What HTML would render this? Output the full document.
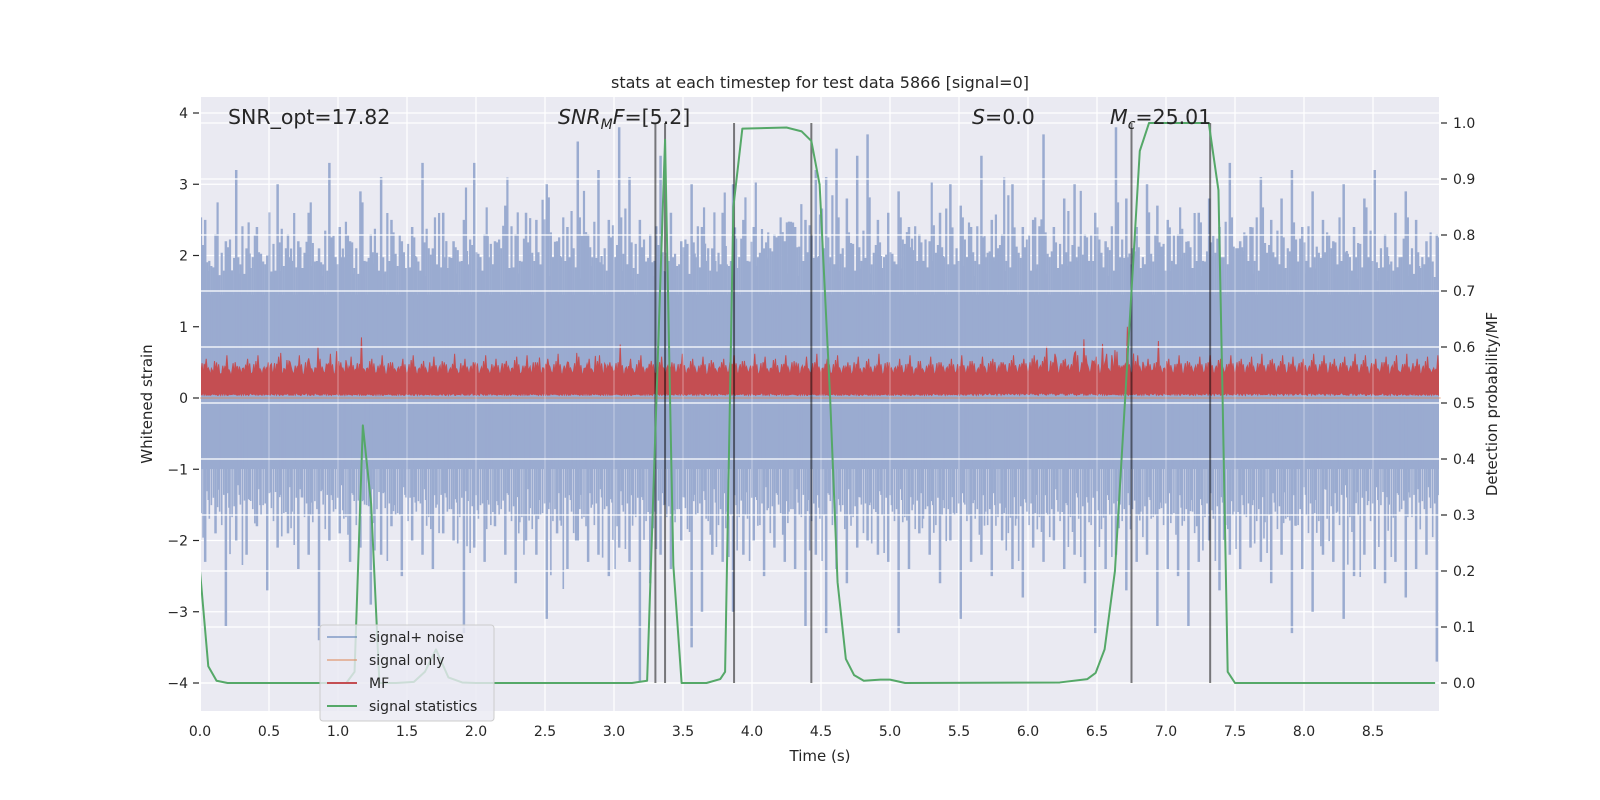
<!DOCTYPE html>
<html><head><meta charset="utf-8"><title>stats at each timestep</title>
<style>
html,body{margin:0;padding:0;background:#fff;}
svg{display:block;font-family:"DejaVu Sans","Liberation Sans",sans-serif;}
</style></head>
<body>
<svg id="chart" width="1600" height="800" viewBox="0 0 1600 800">
<defs><clipPath id="plotclip"><rect x="201" y="97" width="1238" height="614"/></clipPath></defs>
<rect x="201" y="97" width="1238" height="614" fill="#eaeaf2"/>
<g id="grid1"></g>
<g id="noise" clip-path="url(#plotclip)"></g>
<line id="sigonly"/>
<g id="mf" clip-path="url(#plotclip)"></g>
<g id="grid2"></g>
<g id="vlines"></g>
<g id="stats" clip-path="url(#plotclip)"></g>
<g id="axes"></g>
<text x="820" y="88" font-size="16" text-anchor="middle" fill="#262626">stats at each timestep for test data 5866 [signal=0]</text>
<text x="228" y="124" font-size="20.5" fill="#262626">SNR_opt=17.82</text>
<text x="558" y="124" font-size="20.5" fill="#262626"><tspan font-style="italic">SNR</tspan><tspan font-style="italic" font-size="14" dy="5">M</tspan><tspan font-style="italic" dy="-5">F</tspan>=[5.2]</text>
<text x="972" y="124" font-size="20.5" fill="#262626"><tspan font-style="italic">S</tspan>=0.0</text>
<text x="1110" y="124" font-size="20.5" fill="#262626"><tspan font-style="italic">M</tspan><tspan font-style="italic" font-size="14" dy="5">c</tspan><tspan dy="-5">=25.01</tspan></text>
<text x="820" y="761" font-size="15" text-anchor="middle" fill="#262626">Time (s)</text>
<text transform="translate(152,404) rotate(-90)" font-size="15" text-anchor="middle" fill="#262626">Whitened strain</text>
<text transform="translate(1497,404) rotate(-90)" font-size="15" text-anchor="middle" fill="#262626">Detection probability/MF</text>
<g>
<rect x="320" y="625" width="174" height="96" rx="3" fill="#eaeaf2" fill-opacity="0.8" stroke="#cccccc"/>
<g><line x1="327" y1="637" x2="357" y2="637" stroke="#4c72b0" stroke-opacity="0.5" stroke-width="2"/><text x="369" y="642" font-size="14" fill="#262626">signal+ noise</text></g>
<g><line x1="327" y1="660" x2="357" y2="660" stroke="#dd8452" stroke-opacity="0.5" stroke-width="2"/><text x="369" y="665" font-size="14" fill="#262626">signal only</text></g>
<g><line x1="327" y1="683" x2="357" y2="683" stroke="#c44e52" stroke-width="2"/><text x="369" y="688" font-size="14" fill="#262626">MF</text></g>
<g><line x1="327" y1="706" x2="357" y2="706" stroke="#55a868" stroke-width="2"/><text x="369" y="711" font-size="14" fill="#262626">signal statistics</text></g>
</g>
</svg>
<script>
// ---- data ----
const noiseStep = 0.075;
const noiseUpper = [2.5,2.3,2.2,3.2,2.1,2.4,2.0,3.0,2.3,2.2,
2.6,2.1,3.3,2.4,2.2,2.9,2.3,3.1,2.5,2.2,
2.4,3.3,2.1,2.6,2.2,2.5,3.3,2.3,2.2,2.7,
2.3,2.6,2.5,3.0,2.2,2.4,3.6,2.3,3.2,2.5,
3.8,3.1,2.5,2.3,3.4,2.6,2.2,3.0,2.4,2.1,
2.6,3.0,2.5,2.4,2.1,2.3,2.2,2.4,2.5,3.2,
3.1,3.5,2.8,3.4,3.7,2.5,2.6,2.9,2.4,2.3,
2.2,2.6,3.0,2.7,2.4,3.4,2.5,2.3,3.0,2.4,
2.5,3.7,2.4,2.8,3.0,2.3,2.6,2.2,3.8,2.8,
2.4,3.0,2.7,2.5,2.3,2.2,2.6,2.8,2.4,3.3,
2.2,2.4,3.1,2.5,2.8,3.2,2.4,2.9,2.5,2.2,
3.0,2.4,2.8,3.2,2.3,2.6,2.9,2.5,2.2,2.3];
const noiseLower = [-2.3,-1.9,-3.2,-2.0,-2.2,-1.8,-2.7,-2.1,-1.9,-2.4,
-2.2,-3.4,-2.0,-1.9,-2.3,-2.1,-2.9,-2.2,-1.8,-2.5,
-2.0,-2.2,-2.4,-1.9,-2.0,-3.3,-2.1,-2.3,-1.8,-2.2,
-2.6,-2.0,-2.2,-3.1,-1.9,-2.4,-2.0,-2.3,-2.2,-2.5,
-2.1,-2.3,-4.0,-2.6,-2.2,-2.4,-2.0,-3.5,-3.0,-2.2,
-2.3,-3.0,-2.2,-2.0,-2.5,-2.1,-2.3,-2.4,-3.2,-2.2,
-3.3,-2.4,-2.6,-2.1,-2.0,-2.2,-2.3,-3.3,-2.4,-1.9,
-2.2,-2.6,-2.0,-3.1,-2.3,-2.2,-2.5,-2.0,-2.4,-2.8,
-2.1,-2.3,-2.0,-2.4,-2.2,-2.6,-3.3,-2.4,-2.2,-2.7,
-2.3,-2.2,-3.2,-2.4,-2.5,-3.2,-2.3,-2.0,-2.7,-2.2,
-2.4,-2.1,-2.3,-2.6,-2.2,-3.3,-2.4,-3.0,-2.2,-2.3,
-3.1,-2.5,-2.2,-2.4,-2.6,-2.3,-2.8,-2.4,-2.2,-3.7];
const mfValues = [0.55,0.5,0.6,0.45,0.55,0.6,0.5,0.58,0.52,0.6,
0.48,0.55,0.62,0.5,0.58,0.85,0.55,0.6,0.5,0.55,
0.6,0.52,0.58,0.5,0.62,0.55,0.5,0.6,0.55,0.52,
0.58,0.6,0.5,0.55,0.62,0.5,0.58,0.55,0.6,0.5,
0.75,0.55,0.6,0.52,0.58,0.5,0.62,0.55,0.58,0.5,
0.55,0.6,0.52,0.62,0.58,0.55,0.6,0.5,0.58,0.62,
0.55,0.6,0.5,0.58,0.55,0.62,0.5,0.55,0.6,0.52,
0.58,0.5,0.55,0.6,0.52,0.58,0.55,0.5,0.6,0.55,
0.6,0.58,0.62,0.55,0.65,0.6,0.58,0.62,0.65,1.0,
0.6,0.55,0.8,0.55,0.6,0.5,0.58,0.6,0.55,0.6,
0.55,0.58,0.62,0.55,0.6,0.58,0.55,0.62,0.6,0.55,
0.58,0.62,0.6,0.55,0.58,0.6,0.62,0.55,0.58,0.6];
const statTimes = [0,0.06,0.12,0.2,1.06,1.12,1.18,1.24,1.30,1.42,1.55,1.63,1.71,1.8,1.9,2.0,3.13,3.24,3.37,3.406,3.43,3.49,3.67,3.77,3.805,3.865,3.93,4.25,4.36,4.43,4.49,4.566,4.62,4.68,4.74,4.81,4.93,5.0,5.11,6.23,6.43,6.49,6.555,6.63,6.69,6.81,6.877,7.31,7.38,7.41,7.447,7.5,8.95];
const statProb = [0.2,0.03,0.004,0,0,0.02,0.46,0.32,0,0,0.002,0.02,0.06,0.01,0.001,0,0,0.004,0.97,0.51,0.21,0,0,0.007,0.02,0.85,0.99,0.992,0.985,0.968,0.89,0.51,0.18,0.043,0.014,0.004,0.006,0.006,0,0.001,0.007,0.018,0.06,0.2,0.45,0.95,1.0,1.0,0.88,0.51,0.02,0,0];
const markerTimes = [3.30,3.37,3.87,4.43,6.75,7.32];
const xTicks = [0,0.5,1,1.5,2,2.5,3,3.5,4,4.5,5,5.5,6,6.5,7,7.5,8,8.5];
const xTickLabels = ["0.0","0.5","1.0","1.5","2.0","2.5","3.0","3.5","4.0","4.5","5.0","5.5","6.0","6.5","7.0","7.5","8.0","8.5"];
const yTicks = [-4,-3,-2,-1,0,1,2,3,4];
const yTickLabels = ["\u22124","\u22123","\u22122","\u22121","0","1","2","3","4"];
const y2Ticks = [0,0.1,0.2,0.3,0.4,0.5,0.6,0.7,0.8,0.9,1.0];
const y2TickLabels = ["0.0","0.1","0.2","0.3","0.4","0.5","0.6","0.7","0.8","0.9","1.0"];

// ---- scales ----
const L=201,R=1439,T=97,B=711;
const X = t => 200 + t*138;
const Y = v => 398 - v*71.25;
const Y2 = p => 683 - p*560;
const NS="http://www.w3.org/2000/svg";
function mk(tag, parent, attrs){const e=document.createElementNS(NS,tag);for(const k in attrs)e.setAttribute(k,attrs[k]);parent.appendChild(e);return e;}

// left grid
const g1=document.getElementById('grid1');
yTicks.forEach(v=>{const l=mk('line',g1,{x1:L,x2:R,y1:Y(v),y2:Y(v),stroke:'#fff','stroke-width':1.2});

});
xTicks.forEach(t=>{const l=mk('line',g1,{x1:X(t),x2:X(t),y1:T,y2:B,stroke:'#fff','stroke-width':1.2});

});

// noise
const gn=document.getElementById('noise');
const blue='#9aabd0';
const coreTop=1.45, coreBot=-1.0;
const core=mk('rect',gn,{x:X(0),y:Y(coreTop),width:X(9)-X(0),height:Y(coreBot)-Y(coreTop),fill:blue});


const n=noiseUpper.length;
const subOff=[-0.4,-0.2,0.2,0.4,0.3];
const subFrac=[0.62,0.45,0.7,0.5,0.35];
const subIdx=[3,7,11,5,13];
for(let i=0;i<n;i++){
  const t=i*noiseStep+noiseStep/2;
  const u=mk('line',gn,{x1:X(t),x2:X(t),y1:Y(0),y2:Y(noiseUpper[i]),stroke:blue,'stroke-width':2.5});
  
  
  const d=mk('line',gn,{x1:X(t),x2:X(t),y1:Y(0),y2:Y(noiseLower[i]),stroke:blue,'stroke-width':2.5});
  
  
  for(let k=0;k<subOff.length;k++){
    const j=(i+subIdx[k])%n;
    const tu=coreTop+subFrac[k]*(noiseUpper[j]-coreTop);
    const tl=coreBot+0.8*subFrac[(k+2)%5]*(noiseLower[(j+4)%n]-coreBot);
    const xs=X(t+subOff[k]*noiseStep);
    const a=mk('line',gn,{x1:xs,x2:xs,y1:Y(0),y2:Y(tu),stroke:blue,'stroke-width':2.2});
    
    
    const b=mk('line',gn,{x1:xs,x2:xs,y1:Y(0),y2:Y(tl),stroke:blue,'stroke-width':1.6});
    
    
  }
}
// signal only
const so=document.getElementById('sigonly');
so.setAttribute('x1',X(0));so.setAttribute('x2',X(8.99));so.setAttribute('y1',Y(0));so.setAttribute('y2',Y(0));
so.setAttribute('stroke','#dd8452');so.setAttribute('stroke-opacity','0.5');so.setAttribute('stroke-width','1.5');

// MF
const gm=document.getElementById('mf');
const mfTop=[], mfBot=[];
const mfSub=[0.3,0.55,0.8,0.4,0.9,0.6,1.0,0.5,0.75,0.45];
const m=mfValues.length;
for(let i=0;i<m;i++){
  for(let k=0;k<mfSub.length;k++){
    const t=(i+k/mfSub.length)*noiseStep;
    const v = k===6 ? mfValues[i] : 0.25+mfSub[k]*(mfValues[(i+k)%m]-0.25)*0.85;
    mfTop.push(X(t)+','+Y(v));
    const lb = 0.03+0.05*mfSub[(k+3)%mfSub.length]*(mfValues[(i+k+2)%m]>0.57?1:0.4);
    mfBot.push(X(t)+','+Y(lb));
  }
}
const mfp=mk('polygon',gm,{points:mfTop.concat(mfBot.reverse()).join(' '),fill:'#c44e52',stroke:'#c44e52','stroke-width':1});



// right grid
const g2=document.getElementById('grid2');
y2Ticks.forEach(p=>{const l=mk('line',g2,{x1:L,x2:R,y1:Y2(p),y2:Y2(p),stroke:'#fff','stroke-width':1.2});

});
xTicks.forEach(t=>{const l=mk('line',g2,{x1:X(t),x2:X(t),y1:T,y2:B,stroke:'#fff','stroke-width':1.2,'stroke-opacity':0.35});

});

// marker lines
const gv=document.getElementById('vlines');
markerTimes.forEach(t=>{const l=mk('line',gv,{x1:X(t),x2:X(t),y1:Y2(0),y2:Y2(1),stroke:'#000','stroke-opacity':0.5,'stroke-width':2});

});

// stats line
const gs=document.getElementById('stats');
const sp=mk('polyline',gs,{points:statTimes.map((t,i)=>X(t)+','+Y2(statProb[i])).join(' '),fill:'none',stroke:'#55a868','stroke-width':2,'stroke-linejoin':'round'});



// axes ticks & labels
const ga=document.getElementById('axes');
xTicks.forEach((t,i)=>{
  const tx=mk('text',ga,{x:X(t),y:736,'font-size':14,'text-anchor':'middle',fill:'#262626'});tx.textContent=xTickLabels[i];
  
  
});
yTicks.forEach((v,i)=>{
  const tk=mk('line',ga,{x1:193,x2:199,y1:Y(v),y2:Y(v),stroke:'#262626','stroke-width':1.2});
  
  
  const tx=mk('text',ga,{x:188,y:Y(v)+5,'font-size':14,'text-anchor':'end',fill:'#262626'});tx.textContent=yTickLabels[i];
  
  
});
y2Ticks.forEach((p,i)=>{
  const tk=mk('line',ga,{x1:1441,x2:1447,y1:Y2(p),y2:Y2(p),stroke:'#262626','stroke-width':1.2});
  
  
  const tx=mk('text',ga,{x:1453,y:Y2(p)+5,'font-size':14,fill:'#262626'});tx.textContent=y2TickLabels[i];
  
  
});
</script>
</body></html>
